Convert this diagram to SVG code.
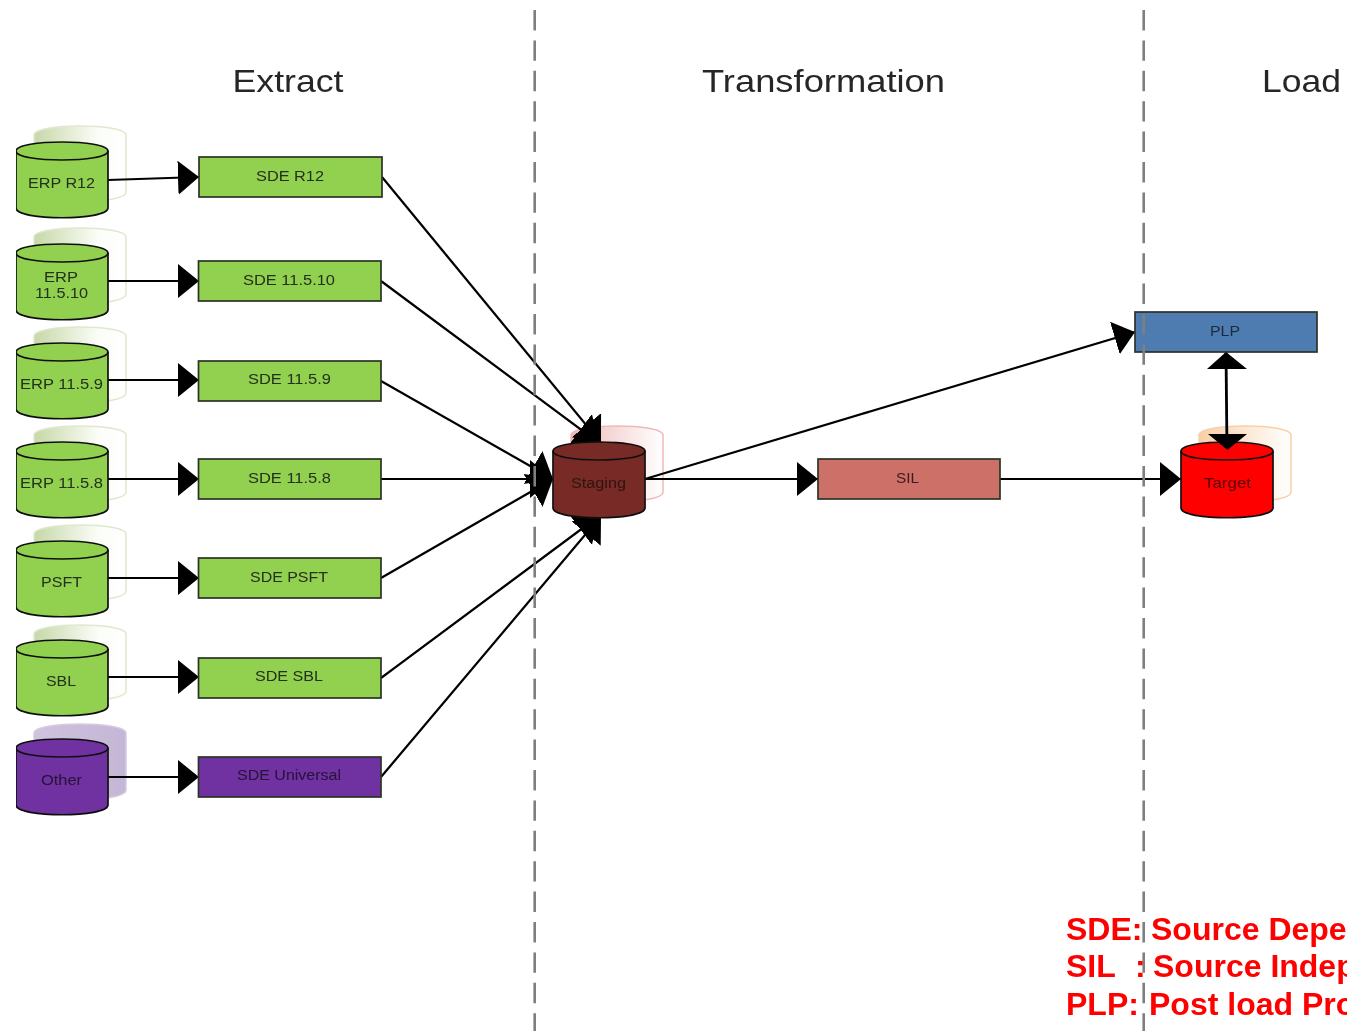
<svg xmlns="http://www.w3.org/2000/svg" xmlns:xlink="http://www.w3.org/1999/xlink" width="1347" height="1031" viewBox="0 0 1347 1031">
<style>
text{font-family:"Liberation Sans",Arial,sans-serif;text-anchor:middle}
.head{font-size:32px;fill:#262626}
.lab{font-size:15px;fill:#23301a}
.note{font-size:32px;font-weight:bold;fill:#ff0000;text-anchor:start}
.box{stroke:#2b3326;stroke-width:1.7}
.green{fill:#92d050}
.purple{fill:#7030a0}
.cyl{stroke:#111;stroke-width:1.7}
.con{fill:none;stroke:#000;stroke-width:2.2}
.dash{fill:none;stroke:#7f7f7f;stroke-width:2.6;stroke-dasharray:20.4 10}
</style>
<defs>
<filter id="soft" x="0" y="0" width="100%" height="100%"><feGaussianBlur stdDeviation="0.45"/></filter>
<marker id="ah" markerUnits="userSpaceOnUse" markerWidth="23" markerHeight="36" refX="21" refY="17" orient="auto"><path d="M0 0L21 17L0 34Z" fill="#000"/></marker>
<marker id="ahb" markerUnits="userSpaceOnUse" markerWidth="24" markerHeight="40" refX="23" refY="19" orient="auto"><path d="M0 0L23 19L0 38Z" fill="#000"/></marker>
<linearGradient id="gG" x1="0" x2="1" y1="0" y2="0"><stop offset="0" stop-color="#c6d8a8"/><stop offset=".7" stop-color="#fbfdf8"/><stop offset="1" stop-color="#fff"/></linearGradient>
<linearGradient id="gP" x1="0" x2="1" y1="0" y2="0"><stop offset="0" stop-color="#cfc3de"/><stop offset="1" stop-color="#c4b6d6"/></linearGradient>
<linearGradient id="gR" x1="0" x2="1" y1="0" y2="0"><stop offset="0" stop-color="#eeb9b6"/><stop offset="1" stop-color="#fff"/></linearGradient>
<linearGradient id="gO" x1="0" x2="1" y1="0" y2="0"><stop offset="0" stop-color="#f8cfa8"/><stop offset="1" stop-color="#fff"/></linearGradient>
<path id="body" d="M0 9C0-3 92-3 92 9V66C92 79 0 79 0 66Z"/>
<path id="lid" d="M0 9C0 21 92 21 92 9" fill="none"/>
</defs>
<rect width="1347" height="1031" fill="#fff"/>
<g filter="url(#soft)">
<g id="shadows">
<use xlink:href="#body" x="34" y="126" fill="url(#gG)" stroke="#dfe8cf" stroke-width="1.5"/>
<use xlink:href="#body" x="34" y="228" fill="url(#gG)" stroke="#dfe8cf" stroke-width="1.5"/>
<use xlink:href="#body" x="34" y="327" fill="url(#gG)" stroke="#dfe8cf" stroke-width="1.5"/>
<use xlink:href="#body" x="34" y="426" fill="url(#gG)" stroke="#dfe8cf" stroke-width="1.5"/>
<use xlink:href="#body" x="34" y="525" fill="url(#gG)" stroke="#dfe8cf" stroke-width="1.5"/>
<use xlink:href="#body" x="34" y="625" fill="url(#gG)" stroke="#dfe8cf" stroke-width="1.5"/>
<use xlink:href="#body" x="34" y="724" fill="url(#gP)" stroke="#d5cce2" stroke-width="1.5"/>
<use xlink:href="#body" x="571" y="426" fill="url(#gR)" stroke="#efb9b6" stroke-width="1.5"/>
<use xlink:href="#body" x="1199" y="426" fill="url(#gO)" stroke="#f8cfa8" stroke-width="1.5"/>
</g>

<g id="connectors">
<path class="con" marker-end="url(#ah)" d="M108 180L199 177"/>
<path class="con" marker-end="url(#ah)" d="M108 281L199 281"/>
<path class="con" marker-end="url(#ah)" d="M108 380L199 380"/>
<path class="con" marker-end="url(#ah)" d="M108 479L199 479"/>
<path class="con" marker-end="url(#ah)" d="M108 578L199 578"/>
<path class="con" marker-end="url(#ah)" d="M108 677L199 677"/>
<path class="con" marker-end="url(#ah)" d="M108 777L199 777"/>
<path class="con" marker-end="url(#ahb)" d="M382 177L601 443"/>
<path class="con" marker-end="url(#ahb)" d="M381 281L599 443"/>
<path class="con" marker-end="url(#ahb)" d="M381 381L553 479"/>
<path class="con" marker-end="url(#ahb)" d="M381 479L553 479"/>
<path class="con" marker-end="url(#ahb)" d="M381 578L553 479"/>
<path class="con" marker-end="url(#ahb)" d="M381 678L599 516"/>
<path class="con" marker-end="url(#ahb)" d="M381 777L601 516"/>
<path class="con" marker-end="url(#ah)" d="M645 479L1135 332"/>
<path class="con" marker-end="url(#ah)" d="M645 479L818 479"/>
<path class="con" marker-end="url(#ah)" d="M1000 479L1181 479"/>
<path class="con" d="M1226 352L1227 450" style="stroke-width:2.8"/>
<path d="M1226 352L1247 369H1207Z" fill="#000"/>
</g>

<g id="n-erp-r12"><use xlink:href="#body" x="16" y="142" class="cyl green"/><use xlink:href="#lid" x="16" y="142" class="cyl"/><text class="lab" x="61.500" y="188" textLength="67" lengthAdjust="spacingAndGlyphs">ERP R12</text></g>
<g id="n-erp-11510"><use xlink:href="#body" x="16" y="244" class="cyl green"/><use xlink:href="#lid" x="16" y="244" class="cyl"/><text class="lab" x="61" y="282" textLength="34" lengthAdjust="spacingAndGlyphs">ERP</text><text class="lab" x="61.500" y="298" textLength="53" lengthAdjust="spacingAndGlyphs">11.5.10</text></g>
<g id="n-erp-1159"><use xlink:href="#body" x="16" y="343" class="cyl green"/><use xlink:href="#lid" x="16" y="343" class="cyl"/><text class="lab" x="61.500" y="389" textLength="83" lengthAdjust="spacingAndGlyphs">ERP 11.5.9</text></g>
<g id="n-erp-1158"><use xlink:href="#body" x="16" y="442" class="cyl green"/><use xlink:href="#lid" x="16" y="442" class="cyl"/><text class="lab" x="61.500" y="488" textLength="83" lengthAdjust="spacingAndGlyphs">ERP 11.5.8</text></g>
<g id="n-psft"><use xlink:href="#body" x="16" y="541" class="cyl green"/><use xlink:href="#lid" x="16" y="541" class="cyl"/><text class="lab" x="61.500" y="587" textLength="41" lengthAdjust="spacingAndGlyphs">PSFT</text></g>
<g id="n-sbl"><use xlink:href="#body" x="16" y="640" class="cyl green"/><use xlink:href="#lid" x="16" y="640" class="cyl"/><text class="lab" x="61" y="686" textLength="30" lengthAdjust="spacingAndGlyphs">SBL</text></g>
<g id="n-other"><use xlink:href="#body" x="16" y="739" class="cyl purple"/><use xlink:href="#lid" x="16" y="739" class="cyl"/><text class="lab" x="61.500" y="785" textLength="41" lengthAdjust="spacingAndGlyphs" style="fill:#261238">Other</text></g>

<g id="n-sde-r12"><rect class="box green" x="199" y="157" width="183" height="40"/><text class="lab" x="290" y="181" textLength="68" lengthAdjust="spacingAndGlyphs">SDE R12</text></g>
<g id="n-sde-11510"><rect class="box green" x="198.500" y="261" width="182.500" height="40"/><text class="lab" x="289" y="285" textLength="92" lengthAdjust="spacingAndGlyphs">SDE 11.5.10</text></g>
<g id="n-sde-1159"><rect class="box green" x="198.500" y="361" width="182.500" height="40"/><text class="lab" x="289.500" y="384" textLength="83" lengthAdjust="spacingAndGlyphs">SDE 11.5.9</text></g>
<g id="n-sde-1158"><rect class="box green" x="198.500" y="459" width="182.500" height="40"/><text class="lab" x="289.500" y="483" textLength="83" lengthAdjust="spacingAndGlyphs">SDE 11.5.8</text></g>
<g id="n-sde-psft"><rect class="box green" x="198.500" y="558" width="182.500" height="40"/><text class="lab" x="289" y="582" textLength="78" lengthAdjust="spacingAndGlyphs">SDE PSFT</text></g>
<g id="n-sde-sbl"><rect class="box green" x="198.500" y="658" width="182.500" height="40"/><text class="lab" x="289" y="681" textLength="68" lengthAdjust="spacingAndGlyphs">SDE SBL</text></g>
<g id="n-sde-universal"><rect class="box purple" x="198.500" y="757" width="182.500" height="40"/><text class="lab" x="289" y="780" textLength="104" lengthAdjust="spacingAndGlyphs" style="fill:#261238">SDE Universal</text></g>

<g id="n-staging"><use xlink:href="#body" x="553" y="442" class="cyl" fill="#772c26"/><use xlink:href="#lid" x="553" y="442" class="cyl"/><text class="lab" x="598.500" y="488" textLength="55" lengthAdjust="spacingAndGlyphs" style="fill:#2f1210">Staging</text></g>
<g id="n-sil"><rect class="box" x="818" y="459" width="182" height="40" fill="#cd7068"/><text class="lab" x="907.500" y="483" textLength="23" lengthAdjust="spacingAndGlyphs" style="fill:#3a1f1c">SIL</text></g>
<g id="n-plp"><rect class="box" x="1135" y="312" width="182" height="40" fill="#4f7bb0"/><text class="lab" x="1225" y="336" textLength="30" lengthAdjust="spacingAndGlyphs" style="fill:#1d2c40">PLP</text></g>
<g id="n-target"><use xlink:href="#body" x="1181" y="442" class="cyl" fill="#ff0000"/><use xlink:href="#lid" x="1181" y="442" class="cyl"/><text class="lab" x="1227.500" y="488" textLength="47" lengthAdjust="spacingAndGlyphs" style="fill:#5a0000">Target</text></g>

<g id="connector-head-over-target"><path d="M1208 434H1247L1227.500 450Z" fill="#000"/></g>

<g id="dividers">
<path class="dash" d="M534.700 10V1031"/>
<path class="dash" d="M1143.700 10V1031"/>
</g>

<text class="head" x="288" y="92" textLength="111" lengthAdjust="spacingAndGlyphs">Extract</text>
<text class="head" x="823.500" y="92" textLength="243" lengthAdjust="spacingAndGlyphs">Transformation</text>
<text class="head" x="1301.500" y="92" textLength="79" lengthAdjust="spacingAndGlyphs">Load</text>

<text class="note" x="1066" y="940">SDE:<tspan x="1151">Source Depe</tspan></text>
<text class="note" x="1066" y="977">SIL<tspan x="1135">:</tspan><tspan x="1153">Source Indep</tspan></text>
<text class="note" x="1066" y="1015">PLP:<tspan x="1149">Post load Pro</tspan></text>
</g>
</svg>
